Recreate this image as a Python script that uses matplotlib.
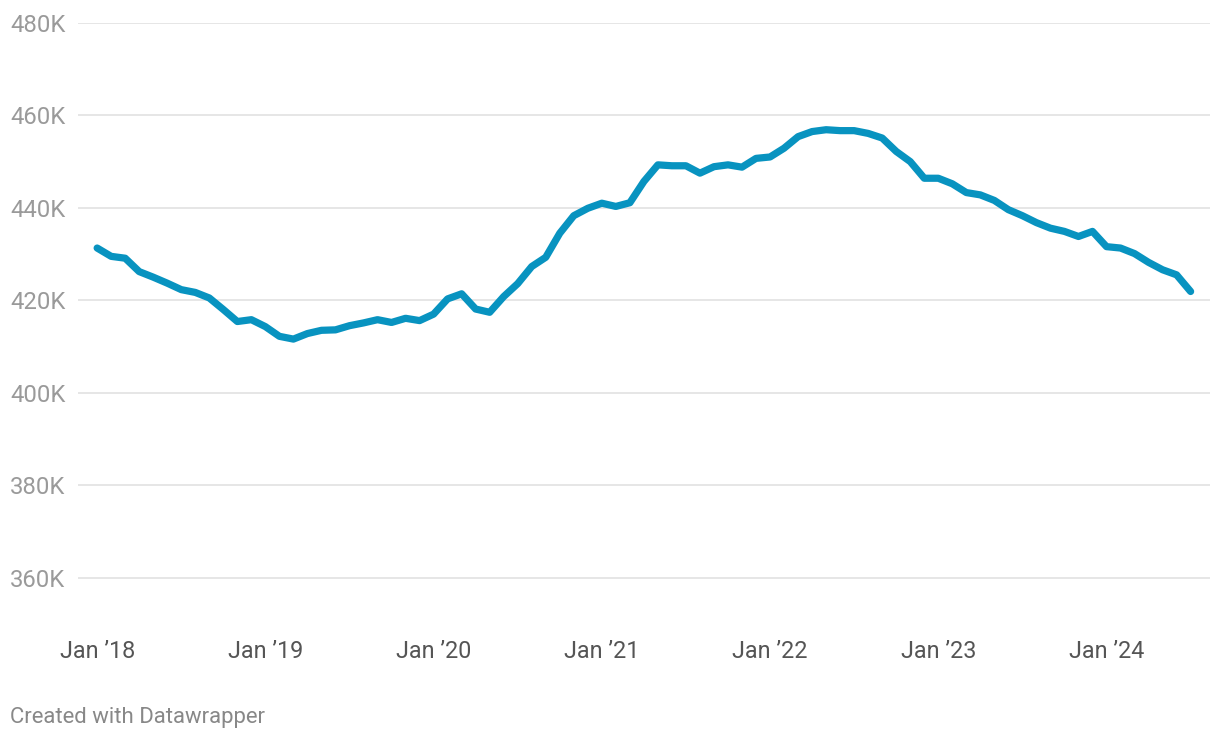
import numpy as np
import matplotlib.pyplot as plt

# monthly values, Jan 2018 .. Jul 2024 (thousands)
values = [
    431.3, 429.5, 429.1, 426.2, 425.0, 423.7, 422.3, 421.7, 420.5, 418.0, 415.4, 415.8,
    414.3, 412.2, 411.6, 412.8, 413.5, 413.6, 414.5, 415.1, 415.8, 415.2, 416.1, 415.6,
    417.0, 420.3, 421.4, 418.1, 417.4, 420.8, 423.6, 427.3, 429.3, 434.5, 438.3, 439.9,
    441.0, 440.3, 441.1, 445.7, 449.3, 449.1, 449.1, 447.5, 448.9, 449.3, 448.8, 450.7,
    451.0, 452.9, 455.4, 456.5, 456.9, 456.7, 456.7, 456.1, 455.1, 452.2, 450.0, 446.4,
    446.4, 445.2, 443.3, 442.8, 441.6, 439.6, 438.3, 436.8, 435.6, 434.9, 433.8, 434.9,
    431.6, 431.3, 430.1, 428.2, 426.6, 425.5, 421.9,
]
tick_labels = ["Jan \u201918", "Jan \u201919", "Jan \u201920", "Jan \u201921",
               "Jan \u201922", "Jan \u201923", "Jan \u201924"]
y_ticks = [360, 380, 400, 420, 440, 460, 480]

plt.rcParams["font.family"] = ["Roboto", "DejaVu Sans"]

fig = plt.figure(figsize=(12.2, 7.4), dpi=100)
ax = fig.add_axes([0.064, 0.157, 0.928, 0.812])

x = np.arange(len(values))
ax.plot(x, values, color="#0893c0", linewidth=5.2,
        solid_joinstyle="round", solid_capstyle="round", zorder=3)

ax.set_ylim(350, 480)
ax.set_xlim(-1.36, 79.4)
ax.set_yticks(y_ticks)
ax.set_yticklabels([f"{v}K" for v in y_ticks])
ax.set_xticks(np.arange(0, 12 * len(tick_labels), 12))
ax.set_xticklabels(tick_labels)

ax.grid(axis="y", color="#e2e2e2", linewidth=1.2)
ax.set_axisbelow(True)
for s in ax.spines.values():
    s.set_visible(False)
ax.tick_params(axis="y", length=0, pad=9, labelsize=17.2, labelcolor="#9a9a9a")
ax.tick_params(axis="x", length=0, pad=11.5, labelsize=16.8, labelcolor="#555555")

fig.text(10 / 1220, 1 - 717 / 740, "Created with Datawrapper",
         fontsize=15.9, color="#888888", ha="left", va="center")

fig.savefig("out.png", dpi=100)
